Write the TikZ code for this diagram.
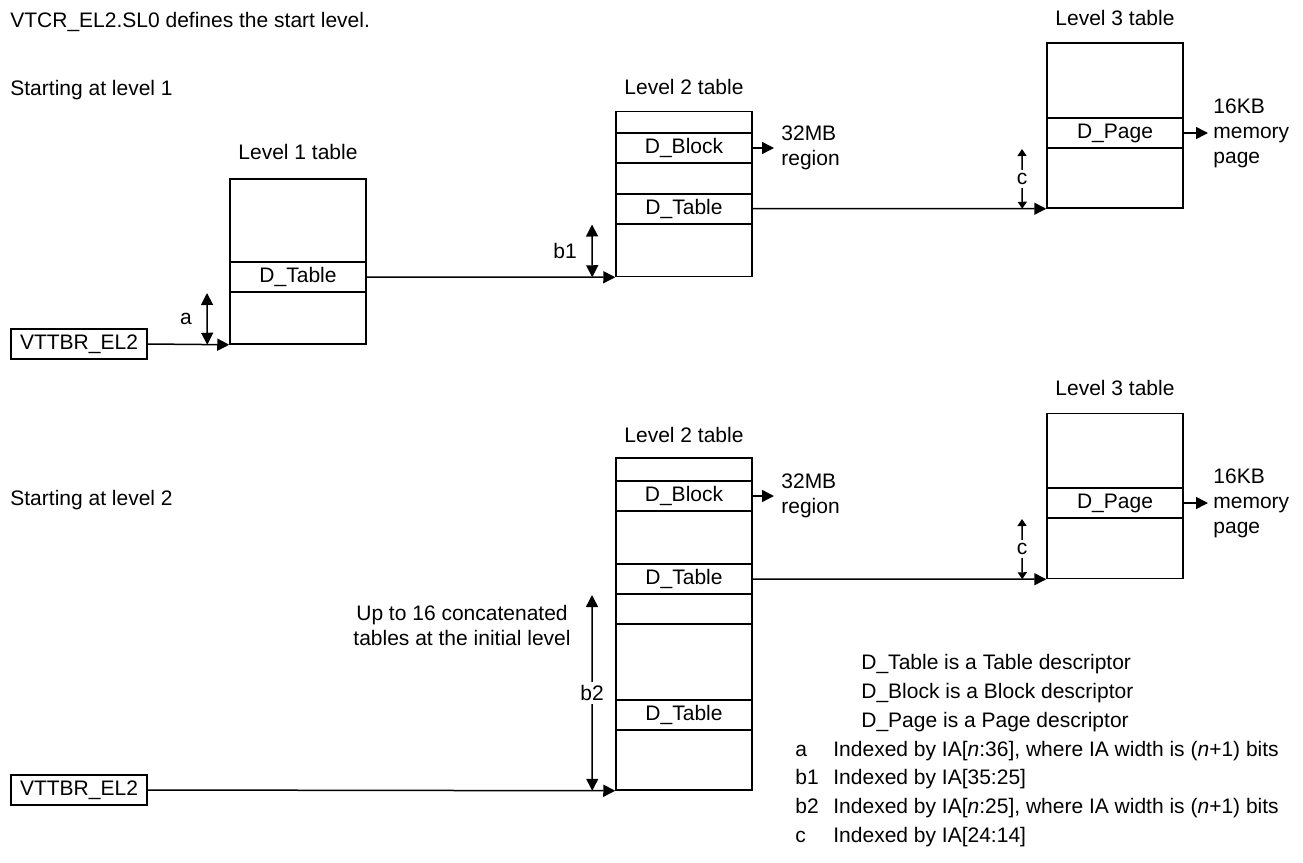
\documentclass[tikz,border=0pt]{standalone}
\usepackage{fontspec}
\setmainfont{Liberation Sans}
\usetikzlibrary{arrows.meta,positioning}
\tikzset{
	tbl/.style={draw, line width=0.75pt, minimum width=68pt, minimum height=82.5pt, inner sep=0pt},
	tblrow/.style={draw, line width=1pt, minimum width=68pt, minimum height=15pt, inner sep=0pt, text height=7.5pt, text depth=2pt},
	reg/.style={draw, line width=0.75pt, minimum width=68pt, minimum height=15pt, inner sep=0pt, text height=7.5pt, text depth=2pt},
	txt/.style={anchor=base west, inner sep=0pt},
	sidelbl/.style={anchor=west, align=left, inner sep=0pt},
	ptr/.style={line width=0.75pt, -{Triangle[length=6pt,width=6pt]}},
	idx/.style={line width=0.75pt, {Triangle[length=6pt,width=6pt]}-{Triangle[length=6pt,width=6pt]}},
	idxs/.style={line width=0.75pt, {Triangle[length=3.5pt,width=4.5pt]}-{Triangle[length=3.5pt,width=4.5pt]}},
}

\begin{document}
\begin{tikzpicture}[x=0.5pt, y=-0.5pt, font=\fontsize{10.5pt}{12.5pt}\selectfont]
	\useasboundingbox (0,0) rectangle (1303,863);
	
	\node[txt] (hdr) at (10,27.5) {VTCR\_EL2.SL0 defines the start level.};
	\node[txt] (startA) at (10,95) {Starting at level 1};
	
	\node (tA1lbl) at (298,152) {Level 1 table};
	\node[tbl] (tA1) at (298,261.5) {};
	\node[tblrow] (tA1tab) at (298,277) {D\_Table};
	\node[reg] (vA) at (79,344) {VTTBR\_EL2};
	\draw[ptr] (vA.east) -- (tA1.south west);
	\draw[idx] ([xshift=-11pt]tA1tab.south west) -- ([xshift=-11pt]tA1.south west) node[midway, left=4pt] {a};
	
	\node (tA2lbl) at (684,87) {Level 2 table};
	\node[tbl] (tA2) at (684,194) {};
	\node[tblrow] (tA2blk) at (684,148) {D\_Block};
	\node[tblrow] (tA2tab) at (684,208.5) {D\_Table};
	\node[sidelbl, right=14pt of tA2blk] (mbA) {32MB\\region};
	\draw[ptr, shorten >=3.5pt] (tA2blk.east) -- (mbA.west);
	\draw[ptr] (tA1tab.east) -- (tA2.south west);
	\draw[idx] ([xshift=-11.5pt]tA2tab.south west) -- ([xshift=-11.5pt]tA2.south west) node[midway, left=4pt] {b1};
	
	\node (tA3lbl) at (1115,18) {Level 3 table};
	\node[tbl] (tA3) at (1115,125.5) {};
	\node[tblrow] (tA3pg) at (1115,133) {D\_Page};
	\node[sidelbl, right=14.5pt of tA3pg] (pgA) {16KB\\memory\\page};
	\draw[ptr, shorten >=2.5pt] (tA3pg.east) -- (pgA.west);
	\draw[ptr] (tA2tab.east) -- (tA3.south west);
	\draw[idxs] ([xshift=-12pt]tA3pg.south west) -- ([xshift=-12pt]tA3.south west) node[midway, fill=white, inner sep=1.5pt] {c};
	
	\node[txt] (startB) at (10,505) {Starting at level 2};
	
	\node (tB2lbl) at (684,435) {Level 2 table};
	\node[tbl, minimum height=166pt] (tB2) at (684,624) {};
	\node[tblrow] (tB2blk) at (684,496) {D\_Block};
	\node[tblrow] (tB2tab) at (684,579) {D\_Table};
	\node[tblrow] (tB2gap) at (684,609) {};
	\node[tblrow] (tB2tab2) at (684,715) {D\_Table};
	\node[sidelbl, right=14pt of tB2blk] (mbB) {32MB\\region};
	\draw[ptr, shorten >=3.5pt] (tB2blk.east) -- (mbB.west);
	\node[align=center] (cnote) at (462,625) {Up to 16 concatenated\\tables at the initial level};
	\draw[idx] ([xshift=-11.5pt]tB2tab.south west) -- ([xshift=-11.5pt]tB2.south west) node[midway, fill=white, inner sep=1.5pt] {b2};
	\node[reg] (vB) at (79,790) {VTTBR\_EL2};
	\draw[ptr] (vB.east) -- (tB2.south west);
	
	\node (tB3lbl) at (1115,388) {Level 3 table};
	\node[tbl] (tB3) at (1115,496) {};
	\node[tblrow] (tB3pg) at (1115,503) {D\_Page};
	\node[sidelbl, right=14.5pt of tB3pg] (pgB) {16KB\\memory\\page};
	\draw[ptr, shorten >=2.5pt] (tB3pg.east) -- (pgB.west);
	\draw[ptr] (tB2tab.east) -- (tB3.south west);
	\draw[idxs] ([xshift=-12pt]tB3pg.south west) -- ([xshift=-12pt]tB3.south west) node[midway, fill=white, inner sep=1.5pt] {c};
	
	\node[txt] (keyT) at (861,669) {D\_Table is a Table descriptor};
	\node[txt] (keyB) at (861,698) {D\_Block is a Block descriptor};
	\node[txt] (keyP) at (861,727) {D\_Page is a Page descriptor};
	\node[txt] (ka) at (795,756) {a};
	\node[txt] (kaT) at (833,756) {Indexed by IA[\textit{n}:36], where IA width is (\textit{n}+1) bits};
	\node[txt] (kb1) at (795,784) {b1};
	\node[txt] (kb1T) at (833,784) {Indexed by IA[35:25]};
	\node[txt] (kb2) at (795,813) {b2};
	\node[txt] (kb2T) at (833,813) {Indexed by IA[\textit{n}:25], where IA width is (\textit{n}+1) bits};
	\node[txt] (kc) at (795,842) {c};
	\node[txt] (kcT) at (833,842) {Indexed by IA[24:14]};
\end{tikzpicture}
\end{document}
